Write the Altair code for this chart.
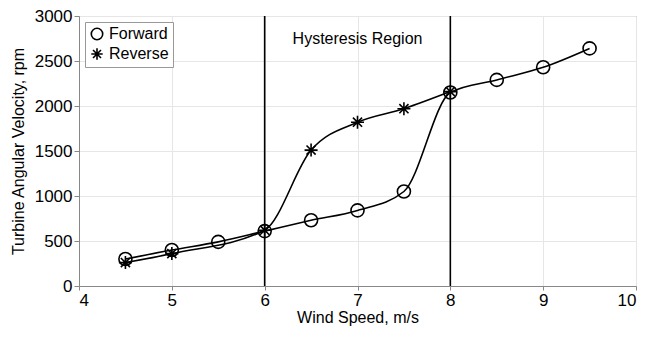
import altair as alt
import pandas as pd

fwd_x = [4.5, 5, 5.5, 6, 6.5, 7, 7.5, 8, 8.5, 9, 9.5]
fwd_y = [300, 400, 490, 610, 730, 840, 1050, 2150, 2290, 2430, 2640]
rev_x = [4.5, 5, 6, 6.5, 7, 7.5, 8]
rev_y = [260, 360, 620, 1510, 1820, 1970, 2160]
rule_x = [6, 8]
note_text = ["Hysteresis Region"]
note_x = [7]
note_y = [2750]

df = pd.concat([
    pd.DataFrame({"speed": fwd_x, "rpm": fwd_y, "series": "Forward"}),
    pd.DataFrame({"speed": rev_x, "rpm": rev_y, "series": "Reverse"}),
])

FONT = "Liberation Sans"
star = "M-1,0L1,0M0,-1L0,1M-0.7,-0.7L0.7,0.7M-0.7,0.7L0.7,-0.7"

xs = alt.Scale(domain=[4, 10], nice=False)
ys = alt.Scale(domain=[0, 3000], nice=False)
xax = alt.Axis(values=[4, 5, 6, 7, 8, 9, 10], title="Wind Speed, m/s", format="d",
               labelFontSize=17, titleFontSize=16, labelFont=FONT, titleFont=FONT,
               labelColor="black", titleColor="black", titleFontWeight="normal",
               tickColor="#888", domainColor="#888", gridColor="#e6e6e6", tickSize=4,
               labelPadding=2, titlePadding=1)
yax = alt.Axis(values=[0, 500, 1000, 1500, 2000, 2500, 3000], title="Turbine Angular Velocity, rpm",
               format="d",
               labelFontSize=17, titleFontSize=16, labelFont=FONT, titleFont=FONT,
               labelColor="black", titleColor="black", titleFontWeight="normal",
               tickColor="#888", domainColor="#888", gridColor="#e6e6e6", tickSize=5,
               labelPadding=2, titlePadding=8)

base = alt.Chart(df)
lines = base.mark_line(color="black", strokeWidth=1.6, interpolate="monotone").encode(
    x=alt.X("speed:Q", scale=xs, axis=xax),
    y=alt.Y("rpm:Q", scale=ys, axis=yax),
    detail="series:N",
)
points = base.mark_point(color="black", filled=False, strokeWidth=1.6, size=170, opacity=1).encode(
    x=alt.X("speed:Q", scale=xs),
    y=alt.Y("rpm:Q", scale=ys),
    shape=alt.Shape("series:N", scale=alt.Scale(domain=["Forward", "Reverse"], range=["circle", star]),
                    legend=alt.Legend(title=None, orient="top-left", offset=6, labelFontSize=16,
                                      labelFont=FONT, labelColor="black", strokeColor="#999",
                                      fillColor="white", padding=4, symbolStrokeColor="black",
                                      symbolStrokeWidth=1.6, symbolSize=130, rowPadding=2)),
)
rules = alt.Chart(pd.DataFrame({"x": rule_x})).mark_rule(color="black", strokeWidth=1.6).encode(
    x=alt.X("x:Q", scale=xs)
)
note = alt.Chart(pd.DataFrame({"t": note_text, "x": note_x, "y": note_y})).mark_text(
    fontSize=16, font=FONT, color="black"
).encode(x=alt.X("x:Q", scale=xs), y=alt.Y("y:Q", scale=ys), text="t:N")

chart = alt.layer(rules, lines, points, note).properties(
    width=557, height=270,
    autosize=alt.AutoSizeParams(type="none"),
    padding={"left": 71, "top": 8, "right": 2, "bottom": 43},
).configure_view(stroke="#888")

chart.save("out.html", embed_options={"renderer": "svg", "actions": False})
